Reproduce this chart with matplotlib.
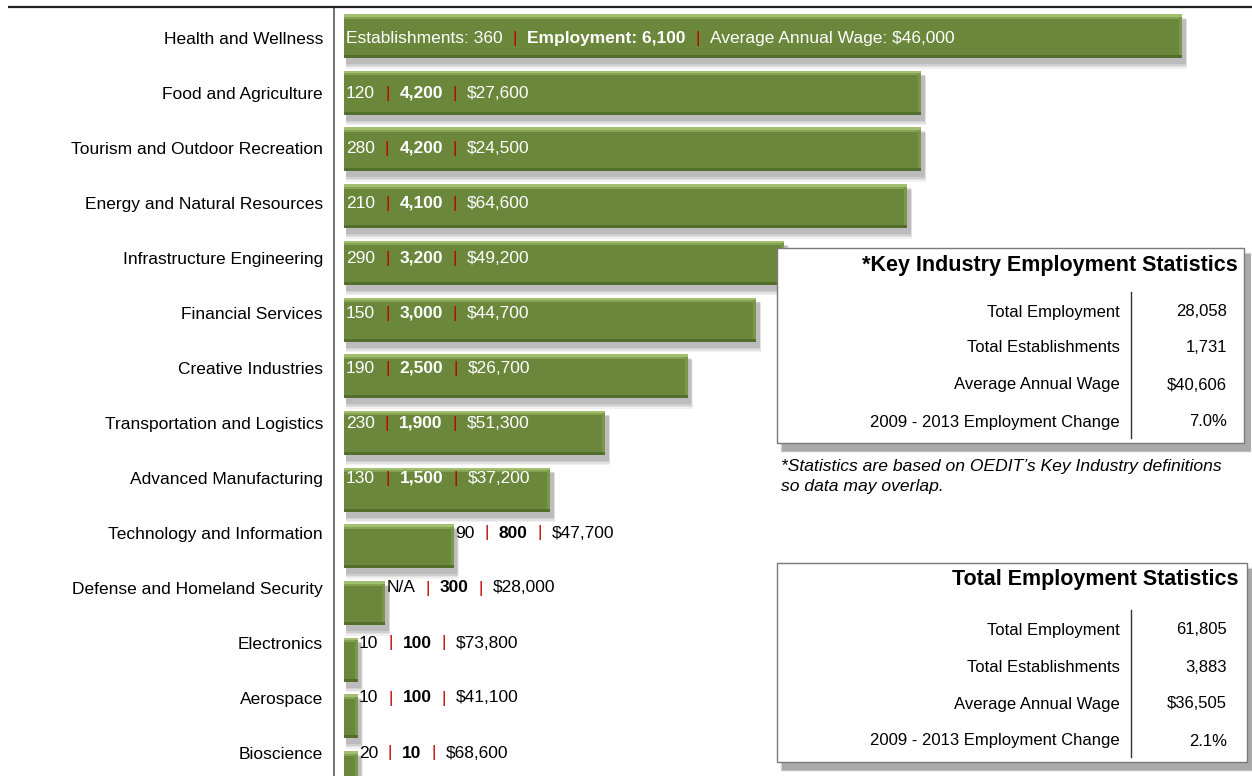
import numpy as np
import matplotlib.pyplot as plt
from matplotlib.patches import Rectangle

plt.rcParams['font.family'] = ['Liberation Sans', 'DejaVu Sans']

# ---- data ----
categories = ["Health and Wellness", "Food and Agriculture", "Tourism and Outdoor Recreation",
              "Energy and Natural Resources", "Infrastructure Engineering", "Financial Services",
              "Creative Industries", "Transportation and Logistics", "Advanced Manufacturing",
              "Technology and Information", "Defense and Homeland Security", "Electronics",
              "Aerospace", "Bioscience"]
establishments = ["360", "120", "280", "210", "290", "150", "190", "230", "130", "90", "N/A", "10", "10", "20"]
employment = [6100, 4200, 4200, 4100, 3200, 3000, 2500, 1900, 1500, 800, 300, 100, 100, 10]
wages = [46000, 27600, 24500, 64600, 49200, 44700, 26700, 51300, 37200, 47700, 28000, 73800, 41100, 68600]

stat_labels = ["Total Employment", "Total Establishments", "Average Annual Wage",
               "2009 - 2013 Employment Change"]
key_values = ["28,058", "1,731", "$40,606", "7.0%"]
total_values = ["61,805", "3,883", "$36,505", "2.1%"]

W, H = 1252, 776
fig = plt.figure(figsize=(W / 100, H / 100), dpi=100)

# bar axes, left spine at x=334 px
ax = fig.add_axes([334 / W, 0, 1 - 334 / W, 1 - 7 / H])
ppu = 0.1374          # pixels per employee
row = 55.0            # pixels per category
ax.set_xlim(-10 / ppu, (W - 344) / ppu)
ax.set_ylim((H - 38) / row, (7 - 38) / row)

n = len(categories)
ybar = np.arange(n) * 1.031 - 0.036
bh = 0.8
green = '#6B873C'
min_bar = 100

for i, v in enumerate(employment):
    w = max(v, min_bar)
    y0 = ybar[i] - bh / 2
    # soft shadow
    for k, a in enumerate([0.08, 0.10, 0.12, 0.15]):
        off = (5 - k) / row
        ax.add_patch(Rectangle((2 / ppu, y0 + 3 / row + off * 0.5), w + (3 - k * 0.5) / ppu, bh + off,
                               color='#555555', alpha=a, lw=0, zorder=1))
    ax.add_patch(Rectangle((0, y0), w, bh, color=green, lw=0, zorder=2))
    ax.add_patch(Rectangle((0, y0), w, 2.5 / row, color='#A3BF70', lw=0, zorder=3))
    ax.add_patch(Rectangle((0, y0 + 2.5 / row), w, 2 / row, color='#86A352', lw=0, zorder=3))
    ax.add_patch(Rectangle((0, y0 + bh - 3 / row), w, 3 / row, color='#546E2D', lw=0, zorder=3))
    ax.add_patch(Rectangle((w - 3 / ppu, y0 + 2.5 / row), 3 / ppu, bh - 5.5 / row,
                           color='#7B984A', lw=0, zorder=3))

ax.set_yticks(np.arange(n))
ax.set_yticklabels(categories, fontsize=12.5)
ax.tick_params(axis='y', length=0, pad=8)
ax.set_xticks([])
for s in ['top', 'right', 'bottom']:
    ax.spines[s].set_visible(False)
ax.spines['left'].set_color('#666666')
ax.spines['left'].set_linewidth(1.3)
ax.patch.set_alpha(0)

# overlay in pixel coordinates
ov = fig.add_axes([0, 0, 1, 1], zorder=5)
ov.set_xlim(0, W)
ov.set_ylim(H, 0)
ov.axis('off')
ov.plot([8, W], [7, 7], color='#222222', lw=1.6, solid_capstyle='butt')

renderer = fig.canvas.get_renderer()
red = '#C00000'
gap = 10


def put_parts(x, y, parts, color, draw=True):
    items = []
    for kind, s, weight in parts:
        if kind == 'sep':
            x += gap
            t = ov.text(x, y, '|', color=red, fontsize=12.5, va='center', ha='left')
        else:
            t = ov.text(x, y, s, color=color, fontsize=12.5, fontweight=weight, va='center', ha='left')
        x += t.get_window_extent(renderer).width
        if kind == 'sep':
            x += gap
        items.append(t)
    if not draw:
        for t in items:
            t.remove()
    return x


for i in range(n):
    if i == 0:
        parts = [('t', "Establishments: " + establishments[i], 'normal'), ('sep', '', ''),
                 ('t', "Employment: " + f"{employment[i]:,}", 'bold'), ('sep', '', ''),
                 ('t', "Average Annual Wage: " + f"${wages[i]:,}", 'normal')]
    else:
        parts = [('t', establishments[i], 'normal'), ('sep', '', ''),
                 ('t', f"{employment[i]:,}", 'bold'), ('sep', '', ''),
                 ('t', f"${wages[i]:,}", 'normal')]
    x0d, yd = ax.transData.transform((0, i))
    x1d, _ = ax.transData.transform((max(employment[i], min_bar), i))
    y = H - yd
    end = put_parts(x0d + 2, y, parts, 'white', draw=False)
    if end < x1d - 4:
        put_parts(x0d + 2, y, parts, 'white')
    else:
        put_parts(x1d + 1, y, parts, 'black')


def draw_box(x0, y0, x1, y1, title, title_y, values, row_ys, sy0, sy1):
    for k, a in enumerate([0.06, 0.08, 0.10, 0.14, 0.18]):
        d = 7 - k
        ov.add_patch(Rectangle((x0 + 3 + k * 0.5, y0 + 4 + k * 0.5), (x1 - x0) + d * 0.6, (y1 - y0) + d * 0.8,
                               color='#444444', alpha=a, lw=0))
    ov.add_patch(Rectangle((x0, y0), x1 - x0, y1 - y0, facecolor='white', edgecolor='#7A7A7A', lw=1))
    ov.text(1238, title_y, title, fontsize=15.5, fontweight='bold', ha='right', va='center', color='black')
    for lab, val, yy in zip(stat_labels, values, row_ys):
        ov.text(1120, yy, lab, fontsize=12, ha='right', va='center', color='black')
        ov.text(1227, yy, val, fontsize=12, ha='right', va='center', color='black')
    ov.plot([1131, 1131], [sy0, sy1], color='#333333', lw=1)


draw_box(777, 248, 1244, 443, "*Key Industry Employment Statistics", 265,
         key_values, [312, 348, 385, 422], 292, 438)
draw_box(777, 563, 1247, 762, "Total Employment Statistics", 580,
         total_values, [630, 667, 704, 741], 610, 757)

ov.text(781, 467, "*Statistics are based on OEDIT\u2019s Key Industry definitions",
        fontsize=12.6, style='italic', ha='left', va='center', color='black')
ov.text(781, 486, "so data may overlap.", fontsize=12.6, style='italic', ha='left', va='center', color='black')

fig.savefig('out.png', dpi=100)
